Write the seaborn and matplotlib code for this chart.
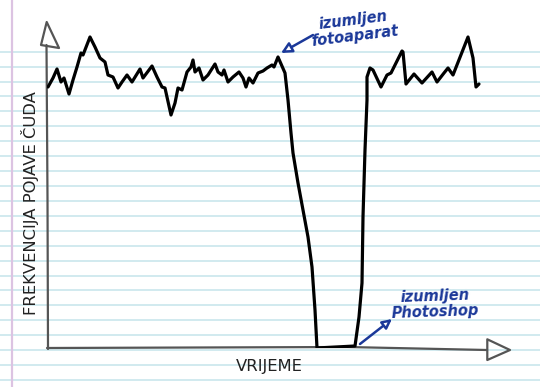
import matplotlib
matplotlib.use("Agg")
import matplotlib.pyplot as plt
from matplotlib.lines import Line2D
from matplotlib.patches import Polygon
import seaborn as sns
import pandas as pd

# ---- data (time units vs. frequency of miracles) ----
time = [1, 6, 10, 14, 17, 22, 26, 30, 34, 36, 43, 48, 53, 58, 61, 66, 71, 75, 80, 85,
        93, 96, 105, 110, 115, 118, 124, 128, 131, 135, 140, 144, 146, 148, 152, 156,
        161, 168, 171, 175, 177, 181, 186, 192, 196, 199, 202, 206, 211, 216, 220, 225,
        227, 231, 238, 241, 244, 246, 251, 256, 261, 265, 268, 270, 308, 312, 315, 316,
        318, 320, 320, 323, 326, 334, 340, 344, 355, 356, 359, 367, 375, 385, 390, 397,
        401, 406, 421, 426, 429, 432]
frequency = [261, 270, 279, 266, 270, 254, 268, 281, 295, 293, 311, 301, 290, 286, 273,
             271, 260, 266, 273, 266, 279, 270, 282, 271, 261, 260, 233, 245, 260, 258,
             276, 281, 288, 276, 280, 268, 273, 284, 276, 273, 278, 266, 271, 276, 270,
             261, 270, 265, 275, 277, 280, 283, 281, 291, 275, 248, 215, 195, 165, 138,
             111, 81, 38, 0, 2, 31, 65, 131, 198, 248, 271, 280, 278, 261, 273, 275, 297,
             296, 264, 274, 265, 276, 266, 275, 280, 273, 311, 290, 261, 264]

x_label = "VRIJEME"
y_label = "FREKVENCIJA POJAVE ČUDA"
note_camera = "izumljen\nfotoaparat"
note_photoshop = "izumljen\nPhotoshop"

sns.set_theme(style="white")
plt.rcParams["font.family"] = ["DejaVu Sans"]

W, H = 540, 387
fig = plt.figure(figsize=(W / 100, H / 100), dpi=100)
fig.patch.set_facecolor("white")

# ruled notebook paper
y0 = 51.7
k = 0
while y0 + 14.92 * k < H:
    yp = y0 + 14.92 * k
    fig.add_artist(Line2D([0, 1], [1 - yp / H, 1 - yp / H], transform=fig.transFigure,
                          color="#c9e6ec", lw=1.2, zorder=-5))
    k += 1
fig.add_artist(Line2D([12 / W, 12 / W], [0, 1], transform=fig.transFigure,
                      color="#dcc3e2", lw=1.6, zorder=-4))

ax = fig.add_axes([47 / W, 1 - 348 / H, (510 - 47) / W, (348 - 20) / H])
ax.patch.set_visible(False)
ax.set_xlim(0, 463)
ax.set_ylim(0, 328)
for s in ax.spines.values():
    s.set_visible(False)
ax.set_xticks([])
ax.set_yticks([])

df = pd.DataFrame({"time": time, "frequency": frequency})
sns.lineplot(data=df, x="time", y="frequency", sort=False, estimator=None,
             color="black", lw=2.3, ax=ax, zorder=5,
             solid_joinstyle="round", solid_capstyle="round")
ax.set_xlabel("")
ax.set_ylabel("")

gray = "#555555"
# hand-drawn axes with hollow arrow heads
ax.plot([1, 0.5, -0.5], [-1, 150, 303], color=gray, lw=1.6, clip_on=False, zorder=4)
ax.add_patch(Polygon([[-6, 303], [-0.3, 326], [12, 300]], closed=True, fill=False,
                     ec=gray, lw=1.6, clip_on=False, zorder=4, joinstyle="round"))
ax.plot([0, 150, 300, 440], [0, 0.5, 1, -2], color=gray, lw=1.6, clip_on=False, zorder=4)
ax.add_patch(Polygon([[440.3, 8.7], [463, -2], [440.3, -12]], closed=True, fill=False,
                     ec=gray, lw=1.6, clip_on=False, zorder=4, joinstyle="round"))

fig.text(30 / W, 1 - 203.5 / H, y_label, rotation=90, ha="center", va="center",
         fontsize=11.8, color="#222222")
fig.text(269.5 / W, 1 - 366 / H, x_label, ha="center", va="center",
         fontsize=11.8, color="#222222")

blue = "#1b3899"
ax.text(307, 320, note_camera, ha="center", va="center", fontsize=10.5,
        fontstyle="italic", fontweight="bold", color=blue, rotation=7,
        linespacing=1.1, clip_on=False)
ax.annotate("", xy=(234, 295), xytext=(266, 313),
            arrowprops=dict(arrowstyle="-|>", color=blue, fc="white", lw=1.8,
                            mutation_scale=16, shrinkA=0, shrinkB=0),
            annotation_clip=False)
ax.text(388, 44, note_photoshop, ha="center", va="center", fontsize=10.5,
        fontstyle="italic", fontweight="bold", color=blue, rotation=2,
        linespacing=1.1, clip_on=False)
ax.annotate("", xy=(345, 29), xytext=(313, 4),
            arrowprops=dict(arrowstyle="-|>", color=blue, fc="white", lw=1.8,
                            mutation_scale=14, shrinkA=0, shrinkB=0),
            annotation_clip=False)

fig.savefig("out.png", dpi=100)
